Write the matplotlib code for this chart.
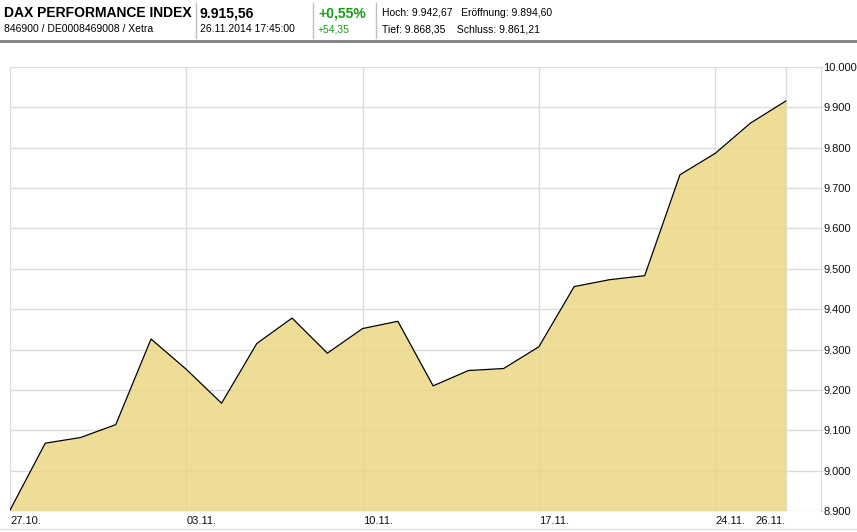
import matplotlib
matplotlib.use( 'Agg' )
import matplotlib.pyplot as plt
from matplotlib.lines import Line2D

# DAX closing values, 27.10.2014 - 26.11.2014 (trading days)
days = ['27.10.', '28.10.', '29.10.', '30.10.', '31.10.',
        '03.11.', '04.11.', '05.11.', '06.11.', '07.11.',
        '10.11.', '11.11.', '12.11.', '13.11.', '14.11.',
        '17.11.', '18.11.', '19.11.', '20.11.', '21.11.',
        '24.11.', '25.11.', '26.11.']
closes = [8902, 9068, 9082, 9114, 9326,
          9251, 9167, 9315, 9378, 9291,
          9352, 9370, 9210, 9248, 9253,
          9307, 9456, 9473, 9483, 9733,
          9786, 9861, 9915.56]
tickDays = ['27.10.', '03.11.', '10.11.', '17.11.', '24.11.', '26.11.']
yTicks = [8900, 9000, 9100, 9200, 9300, 9400, 9500, 9600, 9700, 9800, 9900, 10000]

# header texts
name = 'DAX PERFORMANCE INDEX'
ident = '846900 / DE0008469008 / Xetra'
last = '9.915,56'
stamp = '26.11.2014 17:45:00'
chgPct = '+0,55%'
chgAbs = '+54,35'
hiOpen = 'Hoch: 9.942,67   Eröffnung: 9.894,60'
loClose = 'Tief: 9.868,35    Schluss: 9.861,21'

plt.rcParams['font.family'] = ['Liberation Sans', 'DejaVu Sans']

W, H = 857, 532
fig = plt.figure( figsize = (W/100, H/100), dpi = 100 )

def fx( px ): return px / W
def fy( py ): return 1 - py / H

# plot area
ax = fig.add_axes( [fx(10), fy(511), fx(811), (511 - 67) / H] )
xs = list( range( len(days) ) )

ax.set_xlim( 0, 23 )
ax.set_ylim( 8900, 10000 )

gridCol = '#dcdcdc'
for y in yTicks:
    ax.axhline( y, color = gridCol, lw = 1, zorder = 0 )
for d in tickDays:
    ax.axvline( days.index(d), color = gridCol, lw = 1, zorder = 0 )

ax.fill_between( xs, 8900, closes, color = '#ecd784', alpha = 0.85, lw = 0, zorder = 1 )
ax.plot( xs, closes, color = 'black', lw = 0.9, zorder = 2 )

for sp in ['top', 'left', 'bottom']: ax.spines[sp].set_visible( False )
ax.spines['right'].set_color( gridCol )

ax.yaxis.tick_right()
ax.set_yticks( yTicks )
ax.set_yticklabels( [ '{:,}'.format(y).replace(',', '.') for y in yTicks ], fontsize = 8 )
ax.tick_params( axis = 'y', length = 1.5, color = gridCol, pad = 0.3, labelcolor = '#111111' )

ax.set_xticks( [] )
for d in tickDays:
    i = days.index(d)
    ha = 'right' if i == len(days) - 1 else 'left'
    ax.annotate( d, xy = (i, 0), xycoords = ('data', 'axes fraction'), xytext = (0, -7.5),
                 textcoords = 'offset points', ha = ha, va = 'center', fontsize = 8, color = '#111111' )

# header bar
fig.add_artist( Line2D( [0, 1], [fy(41), fy(41)], color = '#808080', lw = 2 ) )
fig.add_artist( Line2D( [0, 1], [fy(529), fy(529)], color = '#e0e0e0', lw = 1 ) )
for px in [196, 313, 376]:
    fig.add_artist( Line2D( [fx(px), fx(px)], [fy(3), fy(38)], color = '#c0c0c0', lw = 1 ) )

fig.text( fx(4), fy(13), name, fontsize = 10, fontweight = 'bold', va = 'center' )
fig.text( fx(4), fy(29), ident, fontsize = 7.5, va = 'center' )
fig.text( fx(200), fy(13), last, fontsize = 10, fontweight = 'bold', va = 'center' )
fig.text( fx(200), fy(29), stamp, fontsize = 7.5, va = 'center' )
fig.text( fx(318), fy(13), chgPct, fontsize = 10, fontweight = 'bold', color = '#1a9a1a', va = 'center' )
fig.text( fx(318), fy(29), chgAbs, fontsize = 7.5, color = '#1a9a1a', va = 'center' )
fig.text( fx(382), fy(13), hiOpen, fontsize = 7.5, va = 'center' )
fig.text( fx(382), fy(29), loClose, fontsize = 7.5, va = 'center' )

fig.savefig( 'out.png', dpi = 100 )
